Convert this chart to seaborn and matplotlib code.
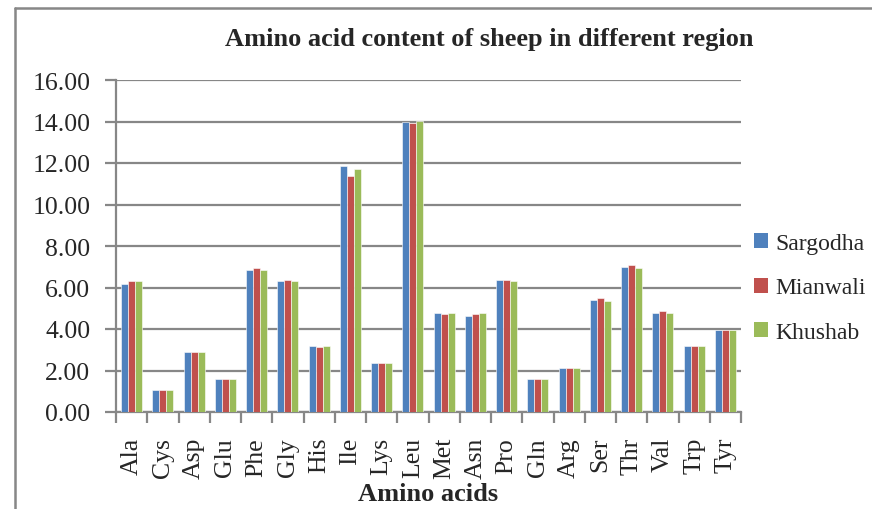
import matplotlib
matplotlib.use("Agg")
import matplotlib.pyplot as plt
from matplotlib.lines import Line2D
from matplotlib.ticker import FixedLocator, MultipleLocator, FormatStrFormatter
import seaborn as sns
import pandas as pd

amino_acids = ["Ala", "Cys", "Asp", "Glu", "Phe", "Gly", "His", "Ile", "Lys", "Leu",
               "Met", "Asn", "Pro", "Gln", "Arg", "Ser", "Thr", "Val", "Trp", "Tyr"]
regions = ["Sargodha", "Mianwali", "Khushab"]
sargodha = [6.18, 1.04, 2.90, 1.58, 6.85, 6.32, 3.17, 11.86, 2.37, 14.00,
            4.77, 4.64, 6.34, 1.58, 2.11, 5.38, 6.98, 4.75, 3.17, 3.97]
mianwali = [6.30, 1.04, 2.90, 1.58, 6.94, 6.37, 3.12, 11.39, 2.37, 13.94,
            4.70, 4.70, 6.34, 1.58, 2.11, 5.47, 7.07, 4.86, 3.17, 3.97]
khushab = [6.30, 1.04, 2.90, 1.58, 6.85, 6.32, 3.17, 11.71, 2.37, 14.02,
           4.77, 4.75, 6.30, 1.58, 2.11, 5.33, 6.94, 4.77, 3.17, 3.97]
colors = ["#4F81BD", "#C0504D", "#9BBB59"]

df = pd.DataFrame({
    "Amino acid": amino_acids * 3,
    "Region": [r for r in regions for _ in amino_acids],
    "Content": sargodha + mianwali + khushab,
})

sns.set_theme(style="white")
plt.rcParams["font.family"] = ["Liberation Serif", "DejaVu Serif"]
grid_gray = "#878787"

W, H = 872, 510
fig = plt.figure(figsize=(W / 100, H / 100), dpi=100)
ax = fig.add_axes([116 / W, 1 - 413 / H, (741 - 116) / W, (413 - 81) / H])

sns.barplot(data=df, x="Amino acid", y="Content", hue="Region", palette=colors,
            width=0.67, gap=0, ax=ax, edgecolor="white", linewidth=0.4,
            saturation=1, errorbar=None, zorder=3)

ax.set_ylim(0, 16)
ax.set_xlim(-0.5, len(amino_acids) - 0.5)
ax.yaxis.set_major_locator(MultipleLocator(2))
ax.yaxis.set_major_formatter(FormatStrFormatter("%.2f"))
ax.grid(axis="y", color=grid_gray, linewidth=1.6, zorder=0)
ax.set_axisbelow(True)

for side in ("top", "right"):
    ax.spines[side].set_visible(False)
for side in ("left", "bottom"):
    ax.spines[side].set_color(grid_gray)
    ax.spines[side].set_linewidth(1.6)

ax.tick_params(axis="y", which="major", direction="out", length=8, width=1.6,
               color=grid_gray, labelsize=18.5, pad=10.5, left=True)
ax.tick_params(axis="x", which="major", length=0, labelsize=18.5, pad=18,
               labelrotation=90)
ax.xaxis.set_minor_locator(FixedLocator([i - 0.5 for i in range(len(amino_acids) + 1)]))
ax.tick_params(axis="x", which="minor", direction="out", length=8, width=1.6,
               color=grid_gray, bottom=True)
for lbl in ax.get_xticklabels():
    lbl.set_va("top")

ax.set_ylabel("")
ax.set_xlabel("")
fig.text(428.5 / W, 1 - 495 / H, "Amino acids", ha="center", va="center",
         fontsize=19, fontweight="bold")

leg = ax.legend(loc="center left", bbox_to_anchor=(754 / W, 1 - 289 / H),
                bbox_transform=fig.transFigure, frameon=False, fontsize=17,
                handlelength=0.6, handleheight=0.6, handletextpad=0.3,
                labelspacing=1.0, borderaxespad=0, borderpad=0)
for h in leg.legend_handles:
    h.set_edgecolor("none")

fig.text(489 / W, 1 - 40 / H, "Amino acid content of sheep in different region",
         ha="center", va="center", fontsize=19, fontweight="bold")

# Chart frame: left and top edges
fig.add_artist(Line2D([15 / W, 15 / W], [0, 1 - 9 / H], transform=fig.transFigure,
                      color=grid_gray, linewidth=1.8))
fig.add_artist(Line2D([15 / W, 1], [1 - 9 / H, 1 - 9 / H], transform=fig.transFigure,
                      color=grid_gray, linewidth=1.8))

fig.savefig("out.png", dpi=100)
